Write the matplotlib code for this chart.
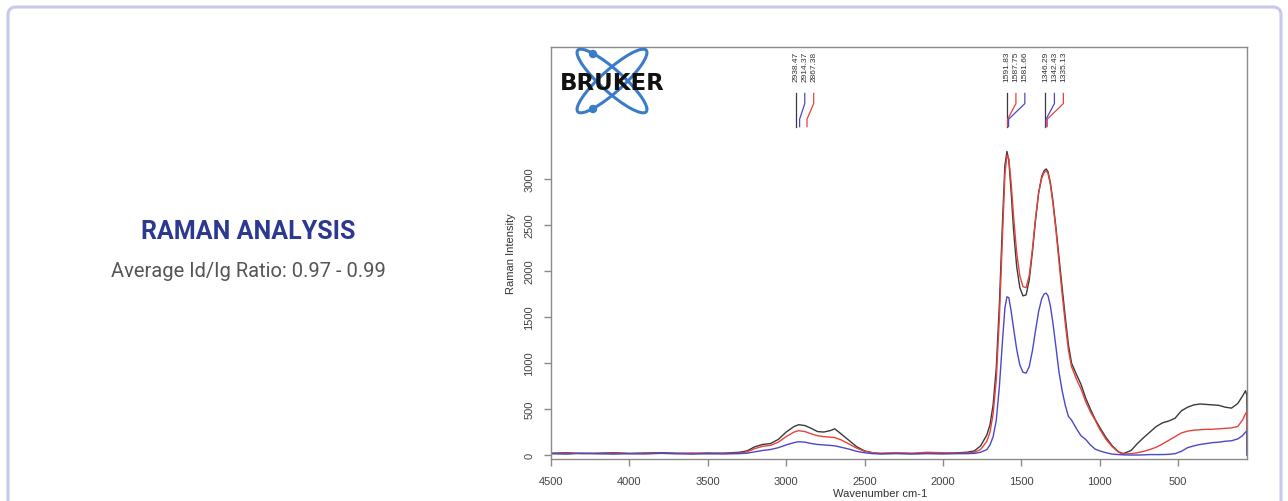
import numpy as np
import matplotlib
matplotlib.use("Agg")
import matplotlib.pyplot as plt
from matplotlib.patches import Ellipse, Circle, FancyBboxPatch

# wavenumber grid (cm-1) shared by the three spectra
wavenumber = [4500, 4400, 4300, 4200, 4100, 4000, 3900, 3800, 3700, 3600, 3500, 3400, 3300,
              3250, 3200, 3150, 3100, 3050, 3000, 2950, 2920, 2880, 2840, 2800, 2760, 2720,
              2690, 2650, 2600, 2550, 2500, 2450, 2400, 2300, 2200, 2100, 2000, 1900, 1850,
              1800, 1760, 1720, 1700, 1680, 1660, 1640, 1620, 1605, 1592, 1580, 1565, 1550,
              1530, 1510, 1490, 1470, 1450, 1430, 1410, 1390, 1370, 1355, 1342, 1330, 1315,
              1300, 1280, 1260, 1240, 1220, 1200, 1180, 1150, 1120, 1090, 1060, 1030, 1000,
              960, 920, 880, 850, 800, 760, 720, 680, 640, 600, 560, 520, 480, 440, 400, 360,
              320, 280, 240, 200, 160, 120, 90, 70, 62, 60]

black = [20, 25, 15, 20, 25, 18, 22, 25, 20, 18, 22, 20, 30,
         45, 90, 115, 125, 170, 250, 310, 330, 320, 290, 255, 250, 265,
         285, 230, 160, 90, 45, 25, 15, 20, 15, 20, 18, 25, 30,
         45, 100, 220, 330, 550, 950, 1650, 2550, 3150, 3300, 3200, 2850, 2450,
         2050, 1820, 1730, 1740, 1900, 2200, 2550, 2850, 3030, 3090, 3110, 3080, 2960,
         2780, 2480, 2150, 1820, 1500, 1200, 1000, 880, 770, 620, 500, 390, 300,
         190, 100, 35, 15, 50, 125, 190, 250, 310, 350, 370, 400, 480, 520, 545, 555,
         550, 545, 540, 520, 510, 560, 640, 700, 650, 0]

red = [15, 20, 18, 15, 20, 15, 18, 20, 15, 20, 15, 18, 20,
       35, 70, 95, 105, 140, 200, 250, 265, 255, 230, 210, 200, 195,
       190, 165, 120, 75, 40, 25, 20, 25, 20, 30, 25, 20, 22,
       30, 60, 150, 250, 450, 820, 1500, 2400, 3050, 3260, 3220, 2950, 2600,
       2200, 1950, 1830, 1820, 1950, 2230, 2570, 2850, 3010, 3070, 3090, 3060, 2940,
       2750, 2450, 2100, 1750, 1430, 1140, 960, 830, 720, 580, 470, 380, 280,
       170, 90, 30, 10, 15, 25, 40, 60, 85, 120, 160, 200, 240, 260, 270, 275,
       280, 280, 285, 290, 295, 310, 380, 450, 470, 0]

blue = [15, 10, 20, 15, 10, 15, 12, 18, 15, 10, 15, 12, 15,
        20, 35, 50, 60, 80, 110, 135, 145, 140, 125, 115, 110, 105,
        100, 85, 65, 40, 25, 15, 12, 15, 12, 15, 12, 15, 15,
        18, 30, 60, 110, 200, 380, 750, 1250, 1600, 1720, 1710, 1560, 1380,
        1150, 980, 900, 890, 960, 1130, 1350, 1560, 1700, 1750, 1760, 1730, 1620,
        1450, 1180, 900, 700, 540, 420, 380, 290, 210, 170, 110, 65, 45,
        25, 10, 5, 2, 0, 0, 2, 5, 5, 5, 8, 15, 40, 80, 100, 115,
        125, 135, 140, 150, 155, 175, 210, 250, 260, 0]

# peak labels at the top of the plot, each group: black, blue/red, red/blue
peak_groups = [[2938.47, 2914.37, 2867.38],
               [1591.83, 1587.75, 1581.66],
               [1346.29, 1342.43, 1335.13]]
peak_colors = [["#3a3a3a", "#4b48c8", "#e8413c"],
               ["#3a3a3a", "#e8413c", "#4b48c8"],
               ["#3a3a3a", "#4b48c8", "#e8413c"]]

C_BLACK = "#3a3a3a"
C_RED = "#e8413c"
C_BLUE = "#4b48c8"

W, H = 1288, 502
fig = plt.figure(figsize=(W / 100, H / 100), dpi=100)
fig.patch.set_facecolor("white")

# main spectrum axes (pixel box 551..1247 x 48..460)
ax = fig.add_axes([551 / W, 1 - 460 / H, (1247 - 551) / W, (460 - 48) / H])
ax.plot(wavenumber, black, color=C_BLACK, lw=1.0)
ax.plot(wavenumber, red, color=C_RED, lw=1.0)
ax.plot(wavenumber, blue, color=C_BLUE, lw=1.0)
ax.set_xlim(4500, 61)
ax.set_ylim(-43, 4435)
ax.set_xticks([4500, 4000, 3500, 3000, 2500, 2000, 1500, 1000, 500])
ax.set_yticks([0, 500, 1000, 1500, 2000, 2500, 3000])
for s in ax.spines.values():
    s.set_color("#8a8a8a")
    s.set_linewidth(1.0)
ax.tick_params(direction="out", length=5, width=1, color="#8a8a8a",
               labelsize=8, labelcolor="#444444")
ax.tick_params(axis="x", pad=7)
ax.tick_params(axis="y", pad=7)
for lab in ax.get_yticklabels():
    lab.set_rotation(90)
    lab.set_va("center")
for lab in ax.get_xticklabels() + ax.get_yticklabels():
    lab.set_family("Liberation Sans")
ax.set_ylabel("Raman Intensity", fontsize=8, color="#333333",
              family="Liberation Sans", labelpad=6)

# peak annotations
step = 57
for peaks, cols in zip(peak_groups, peak_colors):
    x0 = peaks[0]
    for i, (p, c) in enumerate(zip(peaks, cols)):
        xl = x0 - i * step
        ax.text(xl, 4395, "%.2f" % p, rotation=90, ha="center", va="top",
                fontsize=6, color="#333333", family="Liberation Sans")
        ax.plot([xl, xl, p, p], [3930, 3820, 3650, 3570], color=c, lw=0.9)

# overlay in pixel coordinates for frame, logo and side text
ov = fig.add_axes([0, 0, 1, 1], facecolor="none")
ov.set_xlim(0, W)
ov.set_ylim(H, 0)
ov.axis("off")

frame = FancyBboxPatch((8, 8), 1273, 520, boxstyle="round,pad=0,rounding_size=8",
                       fill=False, edgecolor="#c8c8ec", lw=2.2)
ov.add_patch(frame)

# Bruker logo
logo_blue = "#3a7cc8"
ov.add_patch(Ellipse((612, 82), 92, 22, angle=42, fill=False, edgecolor=logo_blue, lw=2.2))
ov.add_patch(Ellipse((612, 82), 92, 22, angle=-42, fill=False, edgecolor=logo_blue, lw=2.2))
ov.add_patch(Circle((593, 55), 3.5, color=logo_blue))
ov.add_patch(Circle((593, 110), 3.5, color=logo_blue))
ov.text(612, 83, "BRUKER", ha="center", va="center", fontsize=16.5,
        fontweight="heavy", color="#111111", family="DejaVu Sans")

ov.text(248, 232, "RAMAN ANALYSIS", ha="center", va="center", fontsize=18,
        fontweight="bold", color="#2b3990", family="Roboto")
ov.text(248, 272, "Average Id/Ig Ratio: 0.97 - 0.99", ha="center", va="center",
        fontsize=14.5, color="#555555", family="Roboto")

ov.text(880, 494, "Wavenumber cm-1", ha="center", va="center", fontsize=8,
        color="#333333", family="Liberation Sans")

fig.savefig("out.png", dpi=100)
